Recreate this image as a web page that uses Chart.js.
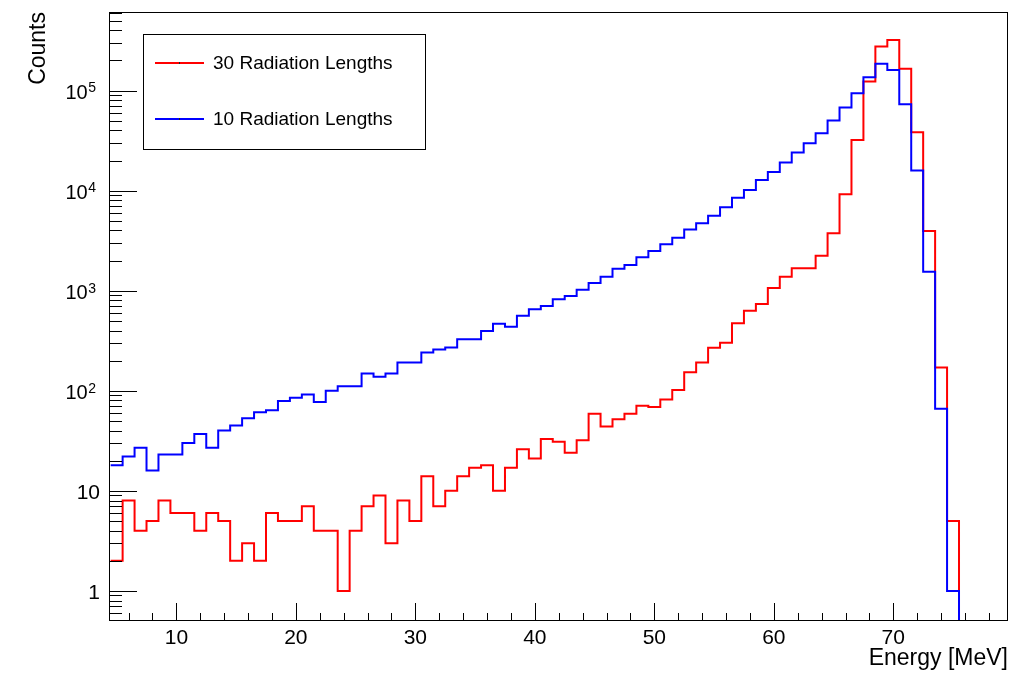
<!DOCTYPE html>
<html>
<head>
<meta charset="utf-8">
<title>Energy spectrum - radiation lengths</title>
<script src="https://cdn.jsdelivr.net/npm/chart.js@4.4.1/dist/chart.umd.min.js"></script>
<style>
  html, body { margin: 0; padding: 0; background: #fff; }
  #wrap { position: relative; width: 1023px; height: 676px; }
</style>
</head>
<body>
<div id="wrap"><canvas id="chart"></canvas></div>
<script>
// Bin centres in MeV (bins are 1 MeV wide)
const energyBins = [
  5, 6, 7, 8, 9, 10, 11, 12, 13, 14, 15, 16, 17, 18, 19, 20, 21, 22, 23, 24,
  25, 26, 27, 28, 29, 30, 31, 32, 33, 34, 35, 36, 37, 38, 39, 40, 41, 42, 43, 44,
  45, 46, 47, 48, 49, 50, 51, 52, 53, 54, 55, 56, 57, 58, 59, 60, 61, 62, 63, 64,
  65, 66, 67, 68, 69, 70, 71, 72, 73, 74, 75, 76, 77, 78, 79, 80
];

// Counts per bin, 30 radiation lengths (red)
const counts30 = [
  2, 8, 4, 5, 8, 6, 6, 4, 6, 5, 2, 3, 2, 6, 5, 5, 7, 4, 4, 1,
  4, 7, 9, 3, 8, 5, 14, 7, 10, 14, 17, 18, 10, 17, 26, 21, 33, 31, 24, 32,
  59, 44, 52, 59, 71, 69, 82, 102, 153, 192, 269, 302, 472, 631, 736, 1065, 1380, 1675, 1675, 2230,
  3750, 9200, 32100, 123000, 275000, 321000, 165000, 38400, 3950, 171, 5, 0, 0, 0, 0, 0
];

// Counts per bin, 10 radiation lengths (blue)
const counts10 = [
  18, 22, 27, 16, 23, 23, 30, 37, 27, 40, 45, 53, 61, 64, 79, 85, 92, 77, 100, 111,
  111, 149, 138, 149, 192, 192, 241, 259, 270, 327, 327, 395, 468, 437, 562, 652, 703, 820, 885, 1025,
  1195, 1380, 1660, 1807, 2158, 2500, 2911, 3388, 4080, 4721, 5623, 6823, 8511, 10160, 12800, 15380, 19140, 23990, 29790, 37500,
  50100, 67600, 94200, 136000, 185000, 161000, 73100, 15850, 1549, 66, 1, 0, 0, 0, 0, 0
];

const seriesLabels = ['30 Radiation Lengths', '10 Radiation Lengths'];
const seriesColors = ['#ff0000', '#0000ff'];
const xTickValues = [10, 20, 30, 40, 50, 60, 70];
const yTickValues = [1, 10, 100, 1000, 10000, 100000];

const X_MIN = 4.36;
const X_MAX = 79.6;
const Y_MIN = 0.5;
const Y_MAX = 6.1e5;
const FONT = "'Liberation Sans', Arial, Helvetica, sans-serif";

/**
 * Turn bin counts into step points at the bin low edges, closed with the
 * last high edge. Empty bins sit on the bottom of the log axis like ROOT does.
 */
function histogramPoints(centres, counts) {
  const pts = centres.map((c, i) => ({ x: c - 0.5, y: counts[i] > 0 ? counts[i] : Y_MIN }));
  const last = centres.length - 1;
  pts.push({ x: centres[last] + 0.5, y: counts[last] > 0 ? counts[last] : Y_MIN });
  return pts;
}

// Frame, ROOT style inward ticks and the y labels with raised exponents
const rootFrame = {
  id: 'rootFrame',
  afterDatasetsDraw(chart) {
    const { ctx, chartArea: a, scales: { x, y } } = chart;
    ctx.save();
    ctx.strokeStyle = '#000';
    ctx.lineWidth = 1;

    ctx.beginPath();
    for (let e = 2; e <= 80; e += 2) {
      if (e <= x.min || e >= x.max) continue;
      const px = Math.round(x.getPixelForValue(e)) + 0.5;
      const len = e % 10 === 0 ? 18 : 8;
      ctx.moveTo(px, a.bottom);
      ctx.lineTo(px, a.bottom - len);
    }
    for (let d = -1; d <= 6; d++) {
      for (let m = 1; m <= 9; m++) {
        const v = m * Math.pow(10, d);
        if (v <= y.min || v >= y.max) continue;
        const py = Math.round(y.getPixelForValue(v)) + 0.5;
        const len = m === 1 ? 28 : 13;
        ctx.moveTo(a.left, py);
        ctx.lineTo(a.left + len, py);
      }
    }
    ctx.stroke();

    ctx.strokeRect(Math.round(a.left) + 0.5, Math.round(a.top) + 0.5,
      Math.round(a.right - a.left) - 1, Math.round(a.bottom - a.top) - 1);

    // y labels: 1, 10, then 10^n with a raised exponent
    ctx.fillStyle = '#000';
    ctx.textBaseline = 'middle';
    ctx.textAlign = 'right';
    yTickValues.forEach(v => {
      const py = y.getPixelForValue(v);
      const right = a.left - 9;
      if (v < 100) {
        ctx.font = '21px ' + FONT;
        ctx.fillText(String(v), right, py + 2);
      } else {
        const exp = String(Math.round(Math.log10(v)));
        ctx.font = '14px ' + FONT;
        const expRight = right - 4;
        const expWidth = ctx.measureText(exp).width;
        ctx.fillText(exp, expRight, py - 2);
        ctx.font = '20px ' + FONT;
        ctx.fillText('10', expRight - expWidth - 0.5, py + 3);
      }
    });
    ctx.restore();
  }
};

// Boxed legend in the top left corner of the frame
const boxLegend = {
  id: 'boxLegend',
  afterDraw(chart) {
    const { ctx, chartArea: a } = chart;
    const left = a.left + 34;
    const top = a.top + 22;
    const width = 282;
    const height = 115;
    ctx.save();
    ctx.fillStyle = '#fff';
    ctx.fillRect(left, top, width, height);
    ctx.strokeStyle = '#000';
    ctx.lineWidth = 1;
    ctx.strokeRect(Math.round(left) + 0.5, Math.round(top) + 0.5, width, height);

    ctx.font = '19px ' + FONT;
    ctx.textBaseline = 'middle';
    ctx.textAlign = 'left';
    seriesLabels.forEach((label, i) => {
      const rowY = top + 29 + i * 56;
      ctx.strokeStyle = seriesColors[i];
      ctx.lineWidth = 2;
      ctx.beginPath();
      ctx.moveTo(left + 12, rowY);
      ctx.lineTo(left + 61, rowY);
      ctx.stroke();
      ctx.fillStyle = '#222';
      ctx.fillRect(left + 36, rowY - 1, 1, 2);
      ctx.fillStyle = '#000';
      ctx.fillText(label, left + 70, rowY + 1);
    });
    ctx.restore();
  }
};

const datasets = [
  {
    label: seriesLabels[1],
    data: histogramPoints(energyBins, counts10),
    borderColor: seriesColors[1],
    borderWidth: 2,
    stepped: 'before',
    pointRadius: 0,
    fill: false
  },
  {
    label: seriesLabels[0],
    data: histogramPoints(energyBins, counts30),
    borderColor: seriesColors[0],
    borderWidth: 2,
    stepped: 'before',
    pointRadius: 0,
    fill: false
  }
];

new Chart(document.getElementById('chart'), {
  type: 'line',
  data: { datasets: datasets },
  options: {
    responsive: true,
    maintainAspectRatio: false,
    animation: false,
    layout: { padding: { left: 0, top: 12, right: 15, bottom: 0 } },
    plugins: {
      legend: { display: false },
      tooltip: { enabled: false }
    },
    scales: {
      x: {
        type: 'linear',
        min: X_MIN,
        max: X_MAX,
        grid: { display: false, drawTicks: false },
        border: { display: false },
        afterBuildTicks: scale => {
          scale.ticks = xTickValues.map(v => ({ value: v }));
        },
        afterFit: scale => {
          scale.height = 55;
          scale.paddingLeft = 0;
          scale.paddingRight = 0;
        },
        ticks: {
          color: '#000',
          padding: 5,
          maxRotation: 0,
          font: { family: FONT, size: 21 },
          callback: v => String(v)
        },
        title: {
          display: true,
          text: 'Energy [MeV]',
          align: 'end',
          color: '#000',
          padding: { top: 0, bottom: 4 },
          font: { family: FONT, size: 23 }
        }
      },
      y: {
        type: 'logarithmic',
        min: Y_MIN,
        max: Y_MAX,
        grid: { display: false, drawTicks: false },
        border: { display: false },
        afterBuildTicks: scale => {
          scale.ticks = yTickValues.map(v => ({ value: v, major: true }));
        },
        afterFit: scale => {
          scale.width = 109;
          scale.paddingTop = 0;
          scale.paddingBottom = 0;
        },
        ticks: { display: false },
        title: {
          display: true,
          text: 'Counts',
          align: 'end',
          color: '#000',
          padding: { top: 25, bottom: 0 },
          font: { family: FONT, size: 23 }
        }
      }
    }
  },
  plugins: [rootFrame, boxLegend]
});
</script>
</body>
</html>
